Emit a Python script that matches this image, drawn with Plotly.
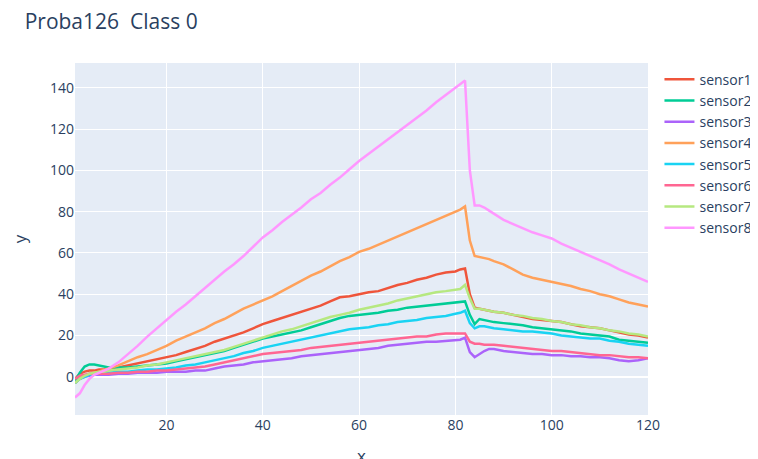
import plotly.graph_objects as go

x = [1, 2, 3, 4, 5, 6, 7, 8,
     10, 12, 14, 16, 18, 20, 22, 24, 26, 28, 30, 32, 34, 36, 38, 40, 42, 44, 46, 48,
     50, 52, 54, 56, 58, 60, 62, 64, 66, 68, 70, 72, 74, 76, 78, 80,
     81, 82, 83, 84, 85, 86, 87, 88,
     90, 92, 94, 96, 98, 100, 102, 104, 106, 108, 110, 112, 114, 116, 118, 120]

sensor1 = [-1, 1.5, 2.5, 3, 3, 3.5, 3.5, 4,
           4.5, 5.5, 6.5, 7.5, 8.5, 9.5, 10.5, 12, 13.5, 15, 17, 18.5, 20, 21.5, 23.5, 25.5, 27, 28.5, 30, 31.5,
           33, 34.5, 36.5, 38.5, 39, 40, 41, 41.5, 43, 44.5, 45.5, 47, 48, 49.5, 50.5, 51,
           52, 52.5, 40, 33.5, 33, 32.5, 32, 31.5,
           31, 30, 29, 28, 27.5, 27, 26.5, 25.5, 24.5, 24, 23.5, 22.5, 21.5, 20.5, 20, 19]

sensor2 = [-2, 2, 5, 6, 6, 5.5, 5, 4.5,
           4.5, 4.5, 5, 5.5, 6, 6.5, 7.5, 8.5, 9.5, 10.5, 11.5, 12.5, 14, 15.5, 17, 18.5, 19.5, 20.5, 21.5, 22.5,
           24, 25.5, 27, 28.5, 29.5, 30, 30.5, 31, 32, 32.5, 33.5, 34, 34.5, 35, 35.5, 36,
           36.5, 36.5, 30, 25.5, 28, 27.5, 27, 26.5,
           26, 25.5, 25, 24, 23.5, 23, 22.5, 22, 21, 20.5, 20, 19.5, 18, 17.5, 17, 16.5]

sensor3 = [-3, -1, 0, 0.5, 1, 1, 1, 1,
           1.5, 1.5, 2, 2, 2, 2.5, 2.5, 2.5, 3, 3, 4, 5, 5.5, 6, 7, 7.5, 8, 8.5, 9, 10,
           10.5, 11, 11.5, 12, 12.5, 13, 13.5, 14, 15, 15.5, 16, 16.5, 17, 17, 17.5, 18,
           18, 19, 12, 9.5, 11, 12.5, 13.5, 13.5,
           12.5, 12, 11.5, 11, 11, 10.5, 10.5, 10, 10, 9.5, 9.5, 9, 8, 7.5, 8, 9]

sensor4 = [-3, -1, 0.5, 1.5, 2, 2.5, 3.5, 4,
           5.5, 7.5, 9.5, 11, 13, 15, 17.5, 19.5, 21.5, 23.5, 26, 28, 30.5, 33, 35, 37, 39, 41.5, 44, 46.5,
           49, 51, 53.5, 56, 58, 60.5, 62, 64, 66, 68, 70, 72, 74, 76, 78, 80,
           81, 82.5, 66, 58.5, 58, 57.5, 57, 56,
           54.5, 52, 49.5, 48, 47, 46, 45, 44, 42.5, 41.5, 40, 39, 37.5, 36, 35, 34]

sensor5 = [-3, -1, 0, 1, 1.5, 2, 2, 2,
           2.5, 2.5, 3, 3.5, 3.5, 4, 4.5, 5.5, 6, 7, 8, 9, 10, 11.5, 12.5, 14, 15, 16, 17, 18,
           19, 20, 21, 22, 23, 23.5, 24, 25, 25.5, 26.5, 27, 27.5, 28.5, 29, 29.5, 30.5,
           31, 32, 26, 23.5, 24.5, 24.5, 24, 23.5,
           23, 22.5, 22, 22, 21.5, 21, 20, 19.5, 19, 18.5, 18.5, 17.5, 17, 16, 15.5, 15]

sensor6 = [-1, 0.5, 1, 1.5, 1.5, 1.5, 1.5, 1.5,
           2, 2, 2.5, 2.5, 3, 3, 3.5, 4, 4.5, 5, 6, 7, 8, 9, 10, 11, 11.5, 12, 12.5, 13,
           14, 14.5, 15, 15.5, 16, 16.5, 17, 17.5, 18, 18.5, 19, 19.5, 19.5, 20.5, 21, 21,
           21, 21, 17, 16, 16, 15.5, 15.5, 15.5,
           15, 14.5, 14, 13.5, 13, 12.5, 12.5, 12, 11.5, 11, 10.5, 10.5, 10, 9.5, 9.5, 9]

sensor7 = [-3, -1, 0.5, 1.5, 2, 2.5, 2.5, 3,
           3.5, 4, 4.5, 5.5, 6, 7, 8, 9, 10, 11, 12, 13, 14.5, 16, 17.5, 19, 20.5, 22, 23, 24.5,
           26, 27.5, 29, 30, 31, 32.5, 33.5, 34.5, 35.5, 37, 38, 39, 40, 41, 41.5, 42,
           42.5, 44.5, 38, 33, 33, 32.5, 32, 31.5,
           31, 30, 29.5, 28.5, 28, 27, 26.5, 25.5, 25, 24, 23.5, 22.5, 22, 21, 20.5, 19.5]

sensor8 = [-10, -8, -4, -1, 1, 2, 3, 4,
           7, 11, 15, 19.5, 23.5, 27.5, 31.5, 35, 39, 43, 47, 51, 54.5, 58.5, 63, 67.5, 71, 75, 78.5, 82,
           86, 89, 93, 96.5, 100.5, 104.5, 108, 111.5, 115, 118.5, 122, 125.5, 129, 133, 136.5, 140,
           141.5, 143.5, 100, 83, 83, 82, 80.5, 79,
           76, 74, 72, 70, 68.5, 67, 64.5, 62.5, 60.5, 58.5, 56.5, 54.5, 52, 50, 48, 46]

names = ["sensor1", "sensor2", "sensor3", "sensor4", "sensor5", "sensor6", "sensor7", "sensor8"]
series = [sensor1, sensor2, sensor3, sensor4, sensor5, sensor6, sensor7, sensor8]
colors = ["#EF553B", "#00cc96", "#ab63fa", "#FFA15A", "#19d3f3", "#FF6692", "#B6E880", "#FF97FF"]

fig = go.Figure()
for n, s, c in zip(names, series, colors):
    fig.add_trace(go.Scatter(x=x, y=s, mode="lines", name=n,
                             line=dict(color=c, width=2.5)))

fig.update_layout(
    template="plotly",
    width=758, height=459,
    margin=dict(l=67, r=118, t=55, b=52, autoexpand=False),
    font=dict(family="Open Sans, Noto Sans, sans-serif", size=14, color="#2a3f5f"),
    title=dict(text="Proba126  Class 0", x=0.022, xanchor="left",
               y=0.9695, yanchor="middle", font=dict(size=21)),
    legend=dict(x=1.02, y=0.998, xanchor="left", yanchor="top",
                font=dict(size=14), tracegroupgap=0),
    xaxis=dict(title=dict(text="x", standoff=22), range=[1, 120], dtick=20),
    yaxis=dict(title=dict(text="y", standoff=36), range=[-18.5, 152], dtick=20),
)

fig.write_html("out.html")
